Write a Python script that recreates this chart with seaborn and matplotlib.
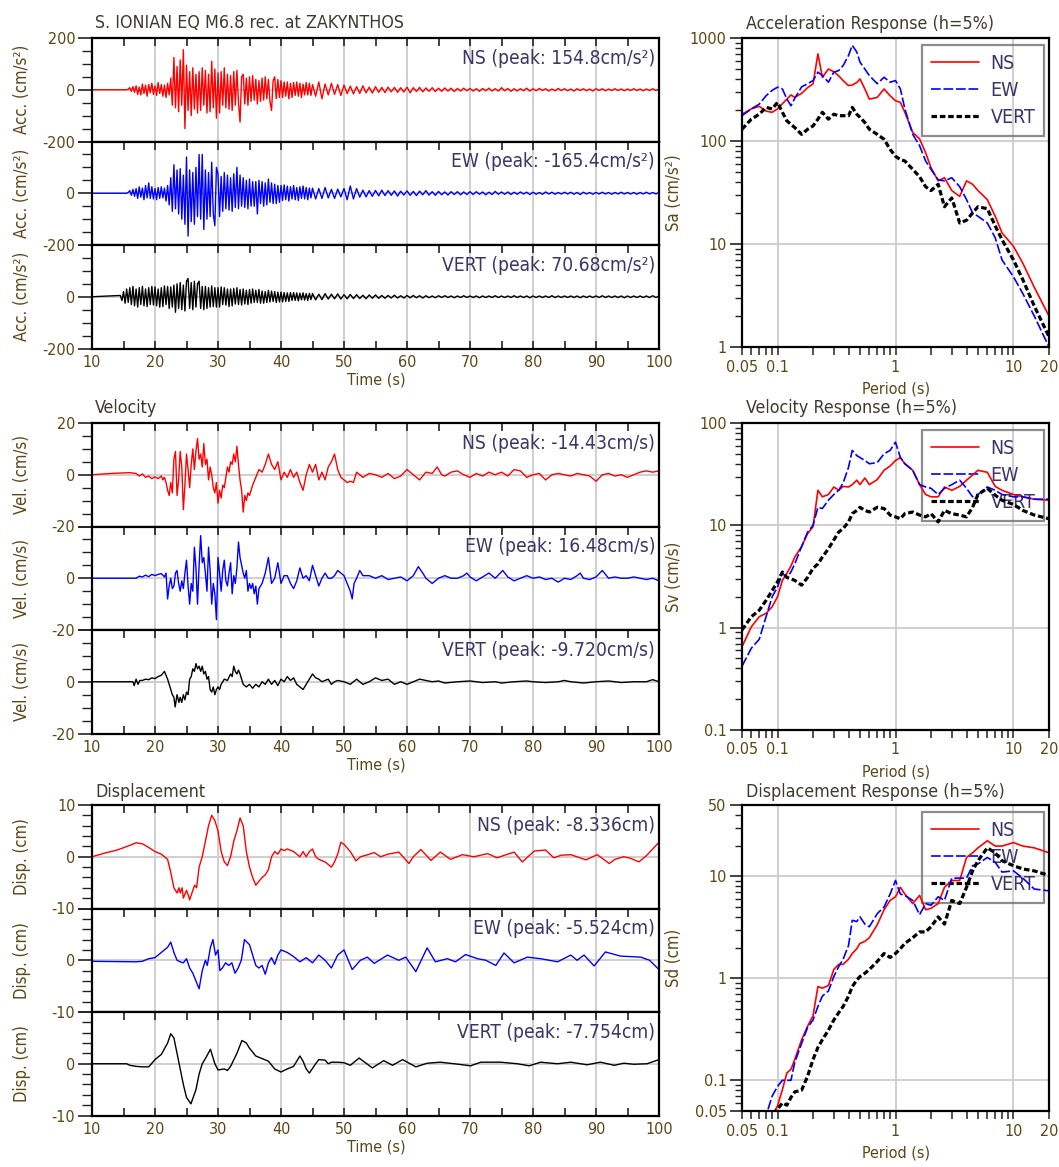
import numpy as np
import matplotlib.pyplot as plt
import seaborn as sns

# ------------------------------------------------------------------
# Data
# ------------------------------------------------------------------
W, H = 1059, 1167

# acceleration records: strong part sampled every 0.25 s from 14.5 s,
# tail sampled every 0.5 s from 45.5 s
ACC_STRONG_T0, ACC_STRONG_DT = 14.5, 0.25
ACC_TAIL_T0, ACC_TAIL_DT = 45.5, 0.5

acc_ns_strong = [0, 0, 0, 0, 0, 2,
                 8, -6, 12, -10, 15, -18, 10, -20, 22, -15, 18, -25, 20, -12, 25, -18,
                 15, -22, 28, -15, 20, -25, 18, -30, 25, -20, 45, -60, 125, -70, 90, -85,
                 115, -60, 154.8, -150, 95, -80, 70, -100, 85, -75, 60, -90, 70, -80, 85, -60,
                 75, -90, 60, -85, 110, -70, 80, -110, 65, -90, 70, -60, 85, -70, 60, -75,
                 55, -80, 70, -60, 75, -50, -125, 50, 60, -55, 45, -60, 50, -45, 55, -40,
                 40, -55, 35, -45, 45, -40, 50, -35, 40, -45, -80, 35, 50, -35, 40, -30,
                 35, -30, 30, -25, 30, -35, 25, -30, 28, -22, 30, -25, 25, -30, 22, -20,
                 28, -20, 25, -22, 20]
acc_ew_strong = [0, 0, 0, 0, 0, 3,
                 10, -8, 15, -12, 18, -20, 25, -15, 20, -25, 30, -18, 40, -20, 25, -22,
                 18, -25, 22, -20, 25, -18, 20, -30, 30, -45, 60, -70, 110, -60, 90, -80,
                 95, -100, 70, -120, 140, -165.4, 90, -110, 80, -120, 100, -90, 150, -100, 150, -140,
                 90, -100, 80, -90, 120, -80, -125, 100, 75, -90, 65, -70, 80, -60, 70, -65,
                 60, -70, 75, -55, 100, -60, 70, -50, 60, -55, 50, -60, 55, -50, 45, -50,
                 45, -80, 50, -40, 45, -50, 40, -45, 55, -35, 40, -40, 35, -40, 30, -35,
                 30, -28, 32, -25, 28, -30, 25, -22, 30, -25, 22, -28, 25, -20, 28, -22,
                 22, -25, 20, -18, 20]
acc_ud_strong = [5, -15, 20, -25, 30, -22,
                 35, -30, 40, -35, 30, -40, 35, -30, 40, -35, 30, -38, 35, -30, 40, -32,
                 38, -35, 30, -40, 35, -38, 42, -30, 40, -45, 38, -40, 45, -60, 50, -45,
                 55, -50, 45, -55, 60, 70.68, -45, 55, -50, 60, -40, 50, 60, -45, 40, -50,
                 40, -45, 35, -40, 42, -38, 35, -40, 35, -40, 38, -30, 35, -32, 30, -38,
                 30, -35, 32, -28, 35, -30, 28, -32, 30, -28, 25, -30, 28, -25, 30, -22,
                 25, -22, 28, -25, 22, -25, 20, -22, 25, -20, 22, -18, 20, -22, 18, -20,
                 18, -20, 16, -18, 15, -18, 16, -14, 16, -14, 15, -16, 14, -12, 15, -13,
                 12, -14, 13, -11, 12]

acc_ns_tail = [-25, 30, -35, 22, -20, 25, -18, 20, -22, 18,
               -15, 14, -16, 12, -14, 15, -12, 10, -13, 12,
               -10, 9, -11, 10, -8, 9, -10, 8, -9, 10,
               -12, 8, -7, 9, -8, 7, -6, 8, -7, 6,
               -6, 7, -5, 6, -7, 5, -5, 6, -4, 5,
               -5, 4, -6, 5, -4, 6, -5, 4, -5, 8,
               -4, 5, -6, 4, -5, 4, -4, 6, -5, 4,
               -4, 5, -3, 4, -5, 3, -4, 5, -3, 4,
               -4, 3, -5, 4, -3, 4, -4, 3, -5, 4,
               -3, 4, -4, 3, -3, 4, -3, 3, -4, 3,
               -3, 4, -3, 3, -4, 3, -3, 4, -3, 3]
acc_ew_tail = [-22, 18, -20, 22, -18, 15, -20, 16, -14, 18,
               -25, 28, -22, 18, -15, 12, -14, 10, -12, 11,
               -10, 12, -9, 10, -8, 9, -11, 8, -7, 9,
               -8, 7, -9, 8, -6, 10, -7, 6, -8, 7,
               -6, 5, -7, 6, -5, 6, -6, 5, -5, 6,
               -5, 6, -4, 5, -6, 4, -5, 7, -4, 5,
               -4, 5, -5, 4, -4, 5, -3, 4, -5, 4,
               -4, 3, -4, 5, -3, 4, -4, 3, -3, 4,
               -3, 4, -4, 3, -5, 4, -3, 3, -4, 3,
               -3, 4, -3, 3, -4, 3, -3, 4, -3, 3,
               -3, 3, -4, 3, -3, 4, -3, 3, -3, 3]
acc_ud_tail = [-12, 10, -11, 12, -9, 10, -8, 11, -9, 8,
               -8, 9, -7, 8, -7, 6, -8, 7, -6, 7,
               -6, 5, -6, 5, -5, 6, -5, 4, -5, 5,
               -4, 5, -4, 4, -5, 4, -4, 3, -4, 4,
               -3, 4, -3, 3, -4, 3, -3, 4, -3, 3,
               -3, 3, -4, 3, -3, 3, -3, 4, -3, 3,
               -3, 3, -3, 4, -3, 3, -3, 3, -4, 3,
               -3, 3, -3, 3, -3, 4, -3, 3, -3, 3,
               -3, 3, -3, 3, -4, 3, -3, 3, -3, 3,
               -3, 4, -3, 3, -3, 3, -3, 3, -4, 3,
               -3, 3, -3, 3, -3, 3, -3, 4, -3, 3]

# velocity records (time s, cm/s)
vel_ns_pts = [(10, 0), (13, 0.5), (16, 0.8), (17, 0.5), (17.5, -0.5), (18, 0.3), (18.5, -1),
              (19, -0.5), (19.5, -1.5), (20, -0.8), (20.5, -1.5), (21, -0.5), (21.25, -2),
              (21.5, -1), (21.75, -3), (22, -6), (22.25, -8), (22.5, -3), (22.75, -7), (23, 6),
              (23.25, 9), (23.5, -8), (23.75, -2), (24, 9), (24.25, 3), (24.5, -13.5), (24.75, -4),
              (25, 8), (25.25, 2), (25.5, -5), (25.75, 4), (26, 10), (26.25, 2), (26.5, 9),
              (26.75, 14), (27, 6), (27.25, 8), (27.5, 3), (27.75, 12), (28, 4), (28.25, 6),
              (28.5, -2), (28.75, 3), (29, 0), (29.25, -5), (29.5, -7), (29.75, -3), (30, -11),
              (30.25, -6), (30.5, -9), (30.75, -4), (31, -5), (31.25, -1), (31.5, 3), (31.75, 1),
              (32, 5), (32.25, 4), (32.5, 8), (32.75, 5), (33, 11), (33.25, 4), (33.5, -2),
              (33.75, -6), (34, -14.43), (34.25, -8), (34.5, -10), (34.75, -7), (35, -8),
              (35.5, -4), (36, -1), (36.5, 2), (37, 1), (37.5, 4), (38, 8), (38.5, 4), (39, 2),
              (39.5, 5), (40, -2), (40.5, 1), (41, -1), (41.5, 2), (42, -1), (42.5, 1), (43, -3),
              (43.5, -6), (44, 0), (44.5, 4), (45, 1), (45.5, 4), (46, -2), (46.5, 1), (47, -2),
              (47.5, 3), (48, 5), (48.5, 8), (49, 2), (49.5, -1), (50, -2), (50.5, -3),
              (51, -2.5), (51.5, -3), (52, 1), (53, -1), (54, 0.5), (55, 0), (56, -1), (57, 0.5),
              (58, -1.5), (59, -0.5), (60, 2), (61, 0), (62, -2), (63, 1), (64, 0.5), (64.8, 3),
              (65.5, 0), (66, -0.5), (67, 1), (68, 1.5), (69, 0), (70, -1), (71, 0.5), (72, -0.5),
              (73, 1), (74, 0), (75, 1), (76, -0.5), (77, 2), (78, 1.5), (79, -1), (80, 0),
              (81, 0.5), (82, -2), (83, 0), (84, 0.5), (85, 0), (86, -0.5), (87, 0.5), (88, 0),
              (89, -0.5), (90, -2.5), (91, 0), (92, 0.5), (93, -0.5), (94, 0), (95, -1), (96, 0),
              (97, 1), (98, 1.5), (99, 1), (100, 1.5)]
vel_ew_pts = [(10, 0), (17, 0), (17.5, 0.8), (18, 0.5), (18.5, 1.2), (19, 0.6), (19.5, 1.5),
              (20, 1), (20.5, 1.5), (21, 1.8), (21.5, 0.5), (21.75, 2), (22, -8), (22.25, -3),
              (22.5, 0), (22.75, -4), (23, -3), (23.25, 2), (23.5, 3), (23.75, -2), (24, -5),
              (24.25, -1), (24.5, -4), (24.75, 2), (25, 7), (25.25, -3), (25.5, -10), (25.75, -2),
              (26, -5), (26.25, 12), (26.5, 4), (26.75, -10), (27, 5), (27.25, 16.48), (27.5, 6),
              (27.75, 8), (28, 2), (28.25, -5), (28.5, 12), (28.75, 3), (29, -10), (29.25, -2),
              (29.5, -6), (29.75, -16), (30, 8), (30.25, 2), (30.5, -5), (30.75, 3), (31, 7),
              (31.25, -1), (31.5, -3), (31.75, 2), (32, 6), (32.25, -6), (32.5, 1), (32.75, -2),
              (33, 4), (33.25, 14), (33.5, 8), (33.75, 5), (34, 2), (34.25, 0), (34.5, 3),
              (34.75, -5), (35, -2), (35.25, -4), (35.5, -2), (35.75, -6), (36, -3), (36.25, -10),
              (36.5, -4), (37, -2), (37.5, 2), (38, 8), (38.5, -2), (39, 0), (39.5, 6), (40, -2),
              (40.5, 1), (41, 1), (41.5, -2), (42, -4), (42.5, -1), (43, 4), (43.5, 0), (44, 1),
              (44.5, -1), (45, 5), (45.5, 1), (46, -3), (46.5, 0), (47, 2), (47.5, 0), (48, 0),
              (48.5, 1), (49, 3), (49.5, 2), (50, 1), (50.5, -2), (51, -5), (51.3, -8),
              (51.6, -2), (52, 0), (52.5, 3), (53, 1), (54, 1), (55, 0), (56, 1), (57, -0.5),
              (58, 0), (59, 0.5), (60, -1), (61, 1), (61.8, 4.5), (62.5, 2), (63, 0), (64, -2),
              (65, 0), (66, 1), (67, 0), (68, 0), (69, 1), (69.5, 2), (70, 0.5), (71, -1),
              (72, 0.5), (73, 2), (74, 0), (75.2, 3), (76, 0.5), (77, -1), (78, 0), (79, 1),
              (80, 0), (81, 0.5), (82, -0.5), (83, 0), (84, -1.5), (85, 0), (86, -0.5), (87, 1),
              (87.5, 2), (88, 0), (89, -0.5), (90, 0.5), (91, 3), (92, 0), (93, 0.5), (94, 0),
              (95, 0), (96, 0.5), (97, 0), (98, -0.5), (99, 0), (100, -1)]
vel_ud_pts = [(10, 0), (16.5, 0), (16.7, -1.5), (17, 1), (17.3, -1), (17.6, 0.5), (18, 0.5),
              (18.5, 1), (19, 0.8), (19.5, 1.5), (20, 1.2), (20.5, 2), (21, 2.5), (21.5, 4),
              (22, 1), (22.5, -3), (22.75, -5), (23, -6), (23.2, -9.72), (23.5, -5), (23.8, -8),
              (24, -6), (24.25, -8), (24.5, -5), (24.75, -7), (25, -4), (25.25, -5), (25.5, 1),
              (25.75, 2), (26, 5), (26.25, 4), (26.5, 7), (26.75, 5), (27, 6), (27.25, 4),
              (27.5, 6), (27.75, 3), (28, 4), (28.25, 1), (28.5, 2), (28.75, -3), (29, -4),
              (29.25, -2), (29.5, -5), (29.75, -3), (30, -2), (30.25, -3), (30.5, -1), (31, 1),
              (31.5, 0.5), (32, 3), (32.25, 2), (32.5, 6), (32.75, 4), (33, 3), (33.25, 4.5),
              (33.5, 3), (34, -1), (34.5, -2), (35, -1), (35.5, -2.5), (36, -1), (36.5, -2),
              (37, 0), (37.5, -1), (38, 1), (38.5, -1), (39, 0.5), (39.5, -1.5), (40, 1),
              (40.5, 0), (41, 2), (41.5, 0.5), (42, 1.5), (42.5, -1), (43, -2), (43.5, -3),
              (44, -1), (44.5, 1), (45, 3), (45.5, 1.5), (46, 1), (46.5, 0), (47, 0.5), (47.5, 1),
              (48, -1), (48.5, 0), (49, 0.5), (50, 0), (51, -1), (52, 1), (53, -1), (54, 0),
              (55, 1.5), (56, 0.5), (57, 1), (58, -1), (59, 0), (60, -1), (61, 0), (62, 1),
              (63, 0.5), (64, 0), (65, 0.3), (66, -0.5), (68, 0), (70, 0.3), (72, -0.3), (74, 0),
              (75, -0.5), (77, 0), (79, 0.3), (80, 0), (82, -0.3), (84, 0), (85, 0.5), (86, 0),
              (88, -0.5), (90, 0), (92, 0.3), (94, -0.3), (96, 0), (98, 0), (99, 0.8), (100, 0)]

# displacement records (time s, cm)
dis_ns_pts = [(10, 0), (12, 0.7), (14, 1.3), (16, 2.2), (17, 2.7), (18, 2.5), (19, 1.8), (20, 1),
              (21, 0.5), (21.5, 0), (22, -0.5), (22.5, -3), (23, -6), (23.5, -7), (23.8, -6),
              (24, -7), (24.3, -6), (24.5, -8), (25, -6.5), (25.3, -7.5), (25.5, -8.336), (26, -6.5),
              (26.3, -5.5), (26.6, -6), (27, -2), (27.5, 0), (28, 3), (28.5, 6), (29, 8), (29.5, 7),
              (30, 5), (30.5, 1), (31, -1), (31.5, -1.7), (32, 0), (32.5, 3), (33, 5), (33.5, 7.5),
              (34, 6), (34.5, 1), (35, -2), (35.5, -4), (36, -5.5), (37, -4), (37.5, -3.5),
              (38, -2.5), (38.5, 0), (39, 1), (39.5, 0.5), (40, 1.5), (40.5, 1.2), (41, 1.5),
              (42, 1), (42.5, 0.5), (43, 0), (43.5, 1), (44, 0), (44.5, 1), (45, 1.5), (45.5, 0),
              (46, -0.5), (47, -1), (48, -2), (48.5, -1), (49, 0.5), (49.5, 2.8), (50, 2.4),
              (51, 1), (51.9, -0.8), (52.6, 0), (53.5, 0.3), (54.8, 0.8), (55.8, 0), (57, 0.5),
              (58.7, 0.9), (60.3, -1.3), (61, 0), (62.2, 1.4), (63.8, -0.7), (65.3, 0.9),
              (66.9, -0.5), (68.8, 0.4), (70.6, 0), (72.8, 0.6), (74.3, -0.2), (75.5, 0.3),
              (77, 0.9), (78.3, -1), (80.2, 1.1), (82, 1.3), (83.3, -0.2), (84.5, 0.3), (86, 0.4),
              (88.4, -0.6), (90.2, 0.4), (92.1, -1.3), (93, -0.5), (94.4, 0), (95.5, -0.3),
              (96.8, -1), (98, 0.2), (99, 1.5), (100, 2.8)]
dis_ew_pts = [(10, -0.2), (17, -0.3), (18, -0.2), (19, 0.3), (20, 0.5), (21, 1.5), (22, 2.5),
              (22.5, 3.5), (23, 1.5), (23.5, 0), (24, -0.3), (24.5, -0.5), (25, 0.3), (25.5, -1.5),
              (26, -2.5), (26.5, -4), (27, -5.524), (27.5, -2), (28, 0), (28.3, -1), (28.8, 2.5),
              (29.2, 4), (29.6, 1), (30, 2), (30.3, -2), (30.7, -1.5), (31.2, -0.5), (31.7, -1),
              (32.2, -0.5), (32.7, -2.5), (33.2, -1.5), (33.7, 0), (34.2, 4), (35, 3), (35.5, 1),
              (36, -1), (36.5, -1.5), (37, -1), (37.5, -2.7), (38, -0.5), (38.5, 0.5), (39, -0.8),
              (39.5, 1), (40, 2), (41, 1.5), (42, 0.7), (43, -0.3), (44, 0.5), (45, -0.5), (46, 1),
              (47, 0), (48, -1.5), (49, 1), (50, 2), (51.3, -1.8), (52.6, 0), (53.7, 0.6),
              (54.8, -0.6), (56.9, 1), (58.7, 0), (59.8, 0.6), (61.4, -2.2), (63.2, 2.4),
              (64.5, -0.3), (66.4, 0.3), (67.7, -0.3), (69.3, 1.1), (71.2, 0.3), (72.5, 0),
              (74.1, -1), (75.4, 1.4), (77, -0.5), (79.1, 0.6), (81.2, 0.3), (83.9, -0.3), (86, 1),
              (87, 0), (88.1, 1), (89.7, -1.1), (91.5, 1.6), (93.9, 0.8), (97.1, 0.6), (98.5, 0),
              (100, -1.8)]
dis_ud_pts = [(10, 0), (15.5, 0), (16, -0.3), (17, -0.5), (18, -0.6), (19, -0.6), (20, 0.8),
              (21, 1.8), (22, 4), (22.5, 5.8), (23, 5), (23.5, 2), (24, -1), (24.5, -4), (25, -6.5),
              (25.7, -7.754), (26.5, -5), (27, -2), (27.5, 0), (28, 1), (28.8, 2.8), (29.5, 0),
              (30, -1.2), (31, -1), (31.5, -1.3), (32, -0.5), (33, 2), (33.8, 4.5), (34.5, 4),
              (35, 3), (36, 1.5), (37, 1), (38, 0.5), (39, -1), (40, -1.6), (41, -1), (42, -0.5),
              (43, 1.5), (43.5, 0.5), (44, -1), (44.5, -1.8), (45.5, 0), (46, 0.8), (47, 0.7),
              (47.5, 0), (48, 0.3), (49, 0.3), (50, 0.2), (51, -0.3), (52.4, 1.1), (54.5, -0.8),
              (56.3, 0.6), (57.7, -0.3), (59.3, 0.8), (61.4, -0.6), (63.2, 0.1), (65.3, 0.3),
              (67.5, 0), (70.1, -0.4), (71.7, 0.3), (74.9, 0.3), (77.5, 0), (79.4, -0.4),
              (81.2, 0.3), (83.9, 0), (86, 0.3), (88.6, -0.2), (90.7, 0.3), (92.9, -0.3),
              (94.4, 0.1), (96, -0.1), (98.1, 0), (100, 0.8)]

# response spectra (h = 5 %)
period = [0.05, 0.06, 0.07, 0.08, 0.09, 0.1, 0.11, 0.12, 0.13, 0.14,
          0.16, 0.18, 0.2, 0.22, 0.24, 0.27, 0.3, 0.33, 0.36, 0.4,
          0.43, 0.47, 0.5, 0.55, 0.6, 0.7, 0.8, 0.9, 1.0, 1.1,
          1.2, 1.4, 1.6, 1.8, 2.0, 2.3, 2.6, 3.0, 3.5, 4.0,
          4.5, 5.0, 6.0, 7.0, 8.0, 10, 12, 15, 20]
sa_ns = [182, 205, 217, 195, 190, 205, 230, 255, 280, 265,
         290, 330, 358, 700, 415, 500, 470, 430, 385, 345,
         350, 370, 400, 320, 255, 265, 320, 275, 246, 237,
         190, 121, 105, 77, 55, 41, 44, 33, 29, 41,
         38, 33, 27, 18.6, 12.8, 9.5, 6.5, 3.8, 2.0]
sa_ew = [176, 205, 228, 275, 310, 333, 320, 256, 220, 260,
         335, 360, 386, 466, 432, 372, 466, 483, 540, 677,
         850, 730, 583, 500, 432, 360, 416, 372, 386, 320,
         205, 116, 90, 64, 53, 42, 41, 44, 36, 27,
         20, 18.6, 16, 11.5, 7.0, 4.8, 3.3, 2.0, 1.0]
sa_ud = [130, 163, 182, 212, 205, 237, 190, 157, 145, 135,
         116, 130, 140, 163, 190, 163, 182, 176, 176, 176,
         212, 182, 170, 151, 130, 116, 104, 83, 71, 66,
         64, 53, 45, 36, 33, 38, 23, 28, 16, 17,
         20, 23, 22, 15, 11, 7, 4.5, 2.5, 1.26]
sv_ns = [0.65, 1.02, 1.28, 1.38, 1.6, 2.0, 2.9, 3.4, 4.0, 4.9,
         6.2, 8.3, 9.7, 22, 19, 20, 23.7, 22, 24, 23.7,
         25, 27.6, 25, 29, 25, 28, 34.5, 38, 43, 46,
         40, 34.5, 25, 20, 19, 19, 23.7, 22, 24, 27.6,
         31, 34.5, 33, 24, 22, 20, 19, 18, 17.6]
sv_ew = [0.42, 0.63, 0.77, 1.28, 2.0, 2.5, 3.4, 3.1, 3.5, 4.2,
         6.2, 8.6, 10, 15, 14.6, 17.6, 20, 22, 26, 37,
         54, 48, 46, 43, 40, 41, 50, 54, 65, 46,
         40, 34.5, 25, 23.7, 23, 20, 23, 25, 27.6, 23,
         19, 20, 23.7, 22, 20, 19, 19, 18, 18]
sv_ud = [0.95, 1.28, 1.48, 1.85, 2.3, 2.8, 3.5, 3.1, 3.0, 2.9,
         2.6, 3.1, 3.8, 4.2, 4.9, 5.9, 7.2, 8.6, 9.3, 10.8,
         13, 14, 15, 14, 13.5, 15, 14.6, 12.6, 12.1, 11.6,
         13, 13.5, 12.6, 12.1, 13, 10.8, 14, 13, 12.6, 12.1,
         15, 20, 23, 19.7, 17.6, 16, 14, 12.6, 11.6]
sd_ns = [0.012, 0.018, 0.025, 0.034, 0.045, 0.056, 0.081, 0.118, 0.128, 0.16,
         0.25, 0.34, 0.43, 0.83, 0.8, 0.85, 1.22, 1.37, 1.37, 1.54,
         1.75, 1.95, 2.2, 2.3, 2.5, 3.35, 4.7, 5.8, 6.3, 7.8,
         6.7, 5.4, 6.5, 4.7, 4.85, 5.4, 7.8, 9.1, 9.1, 15.3,
         17, 19, 22.3, 19.8, 19.8, 21.4, 19.8, 19, 17]
sd_ew = [0.011, 0.017, 0.027, 0.045, 0.07, 0.087, 0.1, 0.1, 0.1, 0.15,
         0.23, 0.33, 0.39, 0.53, 0.67, 0.75, 1.04, 1.3, 1.54, 2.1,
         3.7, 3.6, 4.0, 3.4, 3.2, 4.3, 5.0, 6.7, 9.1, 6.7,
         6.5, 5.8, 4.2, 5.4, 5.2, 6.3, 5.8, 9.6, 9.6, 9.6,
         12.7, 13.2, 15.3, 13.7, 11, 11.3, 9.6, 7.5, 7.2]
sd_ud = [0.008, 0.014, 0.022, 0.035, 0.045, 0.052, 0.06, 0.057, 0.068, 0.077,
         0.08, 0.11, 0.16, 0.21, 0.25, 0.31, 0.39, 0.46, 0.53, 0.67,
         0.83, 0.96, 1.04, 1.12, 1.22, 1.46, 1.75, 1.6, 1.75, 1.95,
         2.2, 2.5, 2.85, 2.85, 3.2, 4.0, 3.4, 5.8, 5.4, 7.8,
         11.3, 14.2, 19, 17, 14.2, 12.7, 11.8, 11.3, 10.2]

components = ["NS", "EW", "VERT"]
peak_acc = ["154.8cm/s²", "-165.4cm/s²", "70.68cm/s²"]
peak_vel = ["-14.43cm/s", "16.48cm/s", "-9.720cm/s"]
peak_dis = ["-8.336cm", "-5.524cm", "-7.754cm"]

# ------------------------------------------------------------------
# Styling
# ------------------------------------------------------------------
sns.set_theme(style="white")
plt.rcParams["font.family"] = ["DejaVu Sans"]
plt.rcParams["font.stretch"] = "condensed"
plt.rcParams["axes.unicode_minus"] = False
plt.rcParams["lines.scale_dashes"] = False

COLORS = ["#ff0000", "#0000ff", "#000000"]
TICK_C = "#5c4614"
TITLE_C = "#3f3a2e"
PEAK_C = "#3d3468"
GRID_C = "#cfcfcf"
TICK_FS = 11.5
TITLE_FS = 12.8

fig = plt.figure(figsize=(W / 100, H / 100), dpi=100)


def rect(x, y, w, h):
    return [x / W, 1 - (y + h) / H, w / W, h / H]


def acc_series(strong, tail):
    t = np.concatenate([[10.0],
                        ACC_STRONG_T0 + ACC_STRONG_DT * np.arange(len(strong)),
                        ACC_TAIL_T0 + ACC_TAIL_DT * np.arange(len(tail))])
    v = np.concatenate([[0.0], strong, tail])
    return t, v


def pts_series(pts):
    arr = np.array(pts, dtype=float)
    return arr[:, 0], arr[:, 1]


def history_panel(top, t, v, color, lim, minor, peak_text, first, last):
    ax = fig.add_axes(rect(92, top, 567, 103.5))
    for g in range(20, 100, 10):
        ax.axvline(g, color=GRID_C, lw=1.4, zorder=0)
    ax.axhline(0, color=GRID_C, lw=1.4, zorder=0)
    sns.lineplot(x=t, y=v, ax=ax, color=color, lw=1.0, sort=False, estimator=None)
    ax.set_xlim(10, 100)
    ax.set_ylim(-lim, lim)
    ax.set_xticks(np.arange(10, 101, 10))
    ax.set_xticks(np.arange(15, 100, 10), minor=True)
    ax.set_yticks([-lim, 0, lim])
    ax.set_yticks(np.arange(-lim, lim + minor / 2, minor), minor=True)
    # the upper limit label of a lower panel sits under the "-lim" of the panel above
    ax.set_yticklabels([str(-lim), "0", str(lim) if first else ""])
    ax.tick_params(axis="x", which="both", direction="in", top=True, bottom=last,
                   labelbottom=last, length=6, width=1.2, color="#222222",
                   labelsize=TICK_FS, labelcolor=TICK_C, pad=5)
    ax.tick_params(axis="y", which="major", direction="out", left=True, length=10,
                   width=1.2, pad=2, labelsize=TICK_FS, labelcolor=TICK_C, color="#222222")
    ax.tick_params(axis="y", which="minor", direction="out", left=True, length=7,
                   width=1.0, color="#222222")
    for s in ax.spines.values():
        s.set_color("black")
        s.set_linewidth(1.6)
    ax.text(0.993, 0.805, peak_text, transform=ax.transAxes, ha="right", va="center",
            fontsize=13.8, color=PEAK_C)
    return ax


def spectrum_panel(top, height, series, ylim, yticks, ylabels):
    ax = fig.add_axes(rect(742, top, 307, height))
    ax.set_xscale("log")
    ax.set_yscale("log")
    for g in [0.1, 1, 10]:
        ax.axvline(g, color=GRID_C, lw=1.4, zorder=0)
    for g in yticks[1:-1]:
        ax.axhline(g, color=GRID_C, lw=1.4, zorder=0)
    styles = [dict(lw=1.2), dict(lw=1.2), dict(lw=2.3)]
    dashes = [None, (7, 2), (4, 2)]
    for name, vals, c, st, d in zip(components, series, COLORS, styles, dashes):
        sns.lineplot(x=period, y=vals, ax=ax, color=c, sort=False, estimator=None,
                     label=name, **st)
        if d is not None:
            ax.lines[-1].set_dashes(d)
    ax.set_xlim(0.05, 20)
    ax.set_ylim(*ylim)
    ax.set_xticks([0.05, 0.1, 1, 10, 20])
    ax.set_xticklabels(["0.05", "0.1", "1", "10", "20"])
    ax.set_yticks(yticks)
    ax.set_yticklabels(ylabels)
    ax.xaxis.set_minor_formatter(plt.NullFormatter())
    ax.yaxis.set_minor_formatter(plt.NullFormatter())
    ax.tick_params(axis="x", which="both", direction="out", bottom=True, length=6,
                   width=1.1, labelsize=TICK_FS, labelcolor=TICK_C, pad=3, color="#222222")
    ax.tick_params(axis="y", which="major", direction="out", left=True, length=9,
                   width=1.2, labelsize=TICK_FS, labelcolor=TICK_C, pad=2, color="#222222")
    ax.tick_params(axis="y", which="minor", direction="out", left=True, length=5,
                   width=1.0, color="#222222")
    for s in ax.spines.values():
        s.set_color("black")
        s.set_linewidth(1.6)
    leg = ax.legend(loc="upper right", bbox_to_anchor=(1 - 5 / 307, 1 - 7 / height),
                    fontsize=14, handlelength=2.45, labelspacing=0.42, borderpad=0.45,
                    handletextpad=0.6, fancybox=False, frameon=True, labelcolor=PEAK_C,
                    borderaxespad=0)
    leg.get_frame().set_facecolor("none")
    leg.get_frame().set_edgecolor("#707070")
    leg.get_frame().set_linewidth(1.6)
    leg.set_zorder(1)
    return ax


# ------------------------------------------------------------------
# Left column: time histories
# ------------------------------------------------------------------
acc_data = [acc_series(acc_ns_strong, acc_ns_tail),
            acc_series(acc_ew_strong, acc_ew_tail),
            acc_series(acc_ud_strong, acc_ud_tail)]
vel_data = [pts_series(vel_ns_pts), pts_series(vel_ew_pts), pts_series(vel_ud_pts)]
dis_data = [pts_series(dis_ns_pts), pts_series(dis_ew_pts), pts_series(dis_ud_pts)]

groups = [
    (38, acc_data, 200, 50, peak_acc, "Acc. (cm/s²)"),
    (423, vel_data, 20, 5, peak_vel, "Vel. (cm/s)"),
    (805, dis_data, 10, 2, peak_dis, "Disp. (cm)"),
]
for top, data, lim, minor, peaks, ylab in groups:
    for i, ((t, v), name, pk, c) in enumerate(zip(data, components, peaks, COLORS)):
        ptop = top + i * 103.5
        history_panel(ptop, t, v, c, lim, minor, f"{name} (peak: {pk})", i == 0, i == 2)
        fig.text(22 / W, 1 - (ptop + 51.75) / H, ylab, rotation=90, ha="center",
                 va="center", fontsize=12, color=TICK_C)
    fig.text(376 / W, 1 - (top + 342) / H, "Time (s)", ha="center", va="center",
             fontsize=11.5, color=TICK_C)

fig.text(95 / W, 1 - 23 / H, "S. IONIAN EQ M6.8 rec. at ZAKYNTHOS", ha="left",
         va="center", fontsize=TITLE_FS, color=TITLE_C)
fig.text(95 / W, 1 - 408 / H, "Velocity", ha="left", va="center", fontsize=TITLE_FS,
         color=TITLE_C)
fig.text(95 / W, 1 - 792 / H, "Displacement", ha="left", va="center", fontsize=TITLE_FS,
         color=TITLE_C)

# ------------------------------------------------------------------
# Right column: response spectra
# ------------------------------------------------------------------
spectra = [
    (38, 309, [sa_ns, sa_ew, sa_ud], (1, 1000), [1, 10, 100, 1000],
     ["1", "10", "100", "1000"], "Acceleration Response (h=5%)", "Sa (cm/s²)", 24),
    (423, 307, [sv_ns, sv_ew, sv_ud], (0.1, 100), [0.1, 1, 10, 100],
     ["0.1", "1", "10", "100"], "Velocity Response (h=5%)", "Sv (cm/s)", 408),
    (805, 306, [sd_ns, sd_ew, sd_ud], (0.05, 50), [0.05, 0.1, 1, 10, 50],
     ["0.05", "0.1", "1", "10", "50"], "Displacement Response (h=5%)", "Sd (cm)", 792),
]
for top, hgt, series, ylim, yt, yl, title, ylab, ty in spectra:
    spectrum_panel(top, hgt, series, ylim, yt, yl)
    fig.text(746 / W, 1 - ty / H, title, ha="left", va="center", fontsize=TITLE_FS,
             color=TITLE_C)
    fig.text(674 / W, 1 - (top + hgt / 2) / H, ylab, rotation=90, ha="center",
             va="center", fontsize=12, color=TICK_C)
    fig.text(896 / W, 1 - (top + hgt + 42) / H, "Period (s)", ha="center", va="center",
             fontsize=11.5, color=TICK_C)

fig.savefig("out.png", dpi=100)
